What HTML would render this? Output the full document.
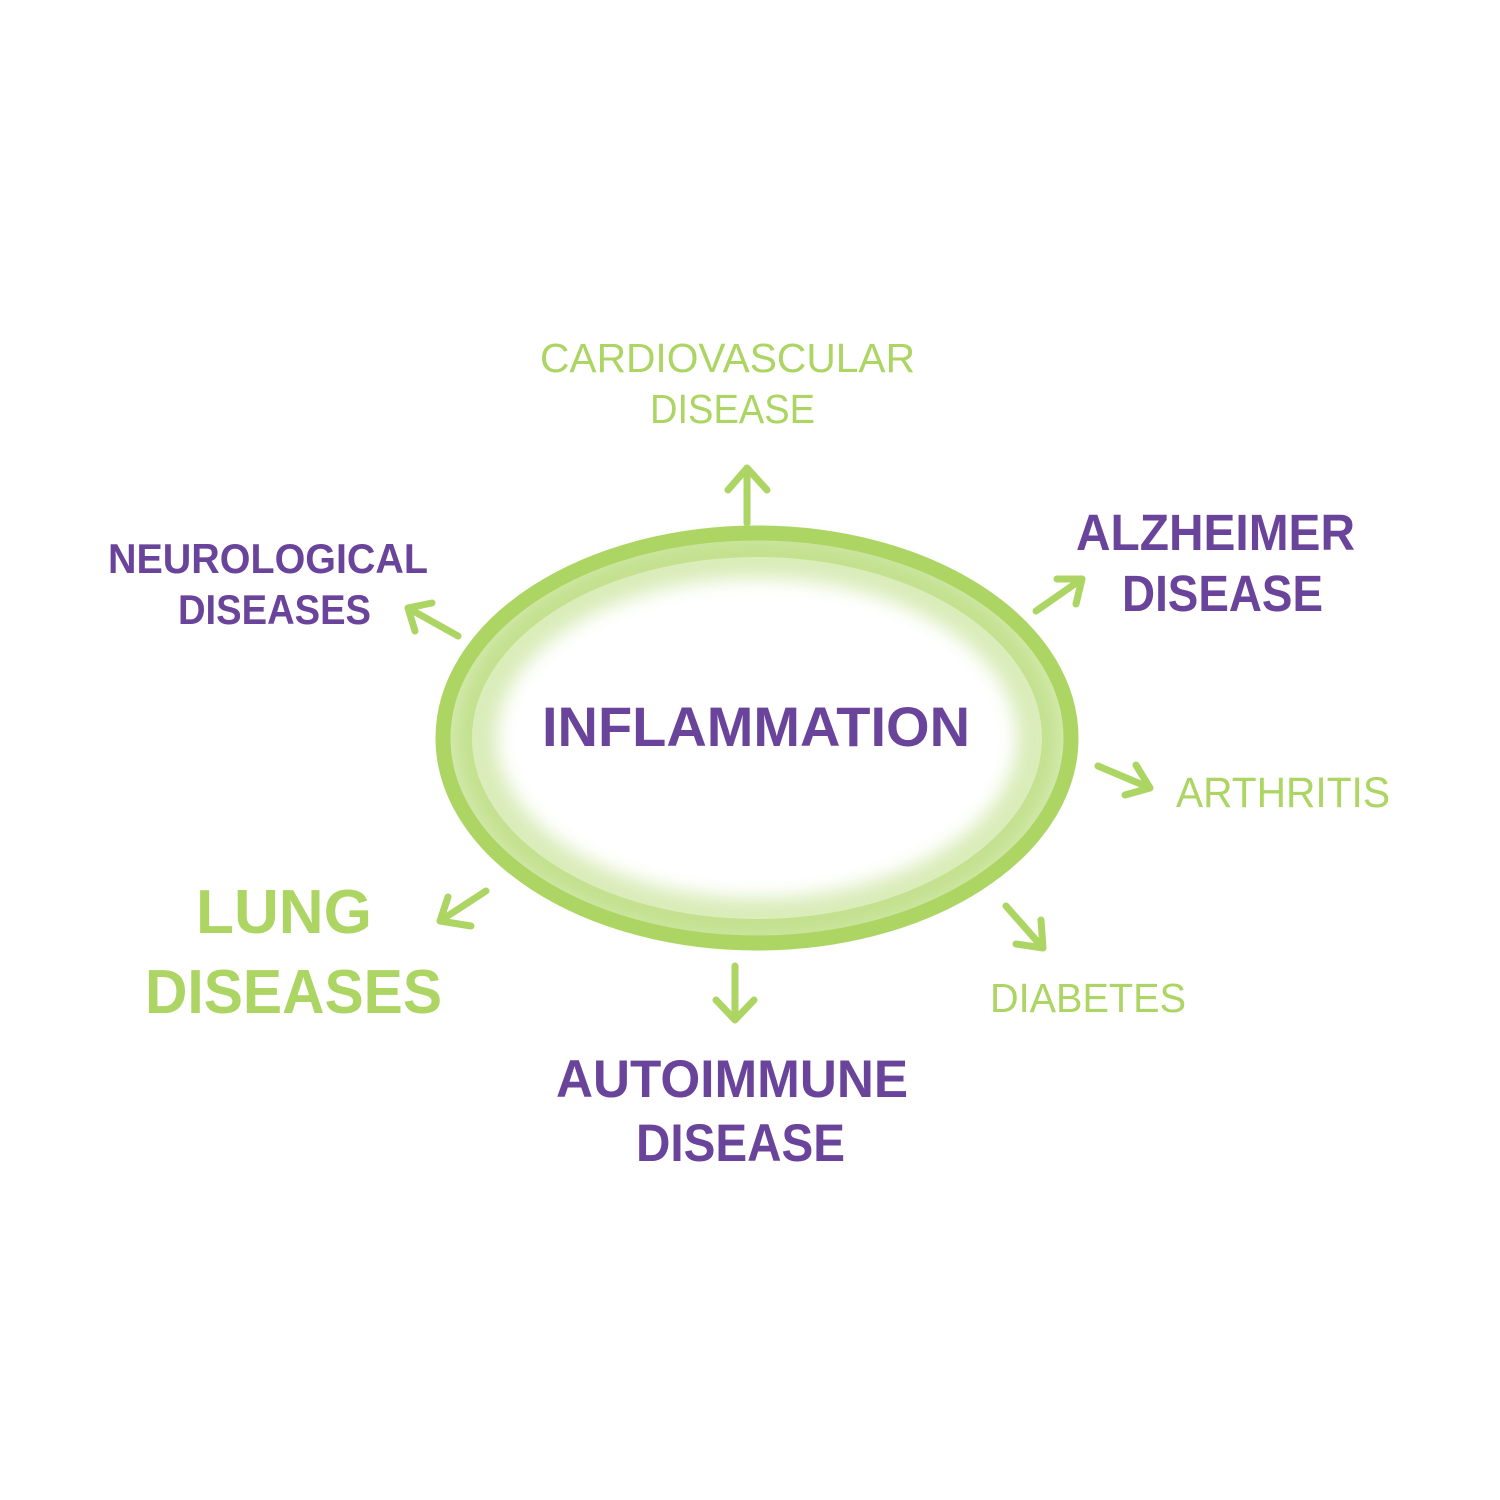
<!DOCTYPE html>
<html><head><meta charset="utf-8"><style>
html,body{margin:0;padding:0;background:#fff}
svg{display:block}
text{font-family:"Liberation Sans",sans-serif}
.g{fill:#acd563}.p{fill:#69449a}
</style></head><body>
<svg width="1500" height="1500" viewBox="0 0 1500 1500">
<defs>
<filter id="blur" x="-20%" y="-20%" width="140%" height="140%"><feGaussianBlur stdDeviation="9"/></filter>
</defs>
<rect width="1500" height="1500" fill="#fff"/>
<!-- inner soft shading -->
<ellipse cx="757" cy="738" rx="280" ry="180" fill="none" stroke="#acd563" stroke-width="40" opacity="0.45" filter="url(#blur)"/>
<ellipse cx="757" cy="738" rx="296" ry="192" fill="none" stroke="#acd563" stroke-width="22" opacity="0.5"/>
<ellipse cx="757" cy="738" rx="314" ry="205" fill="none" stroke="#acd563" stroke-width="15"/>
<g stroke="#acd563" stroke-width="7" stroke-linecap="round" stroke-linejoin="round" fill="none">
<path d="M747 523 L747 468 M728 490 L747 468 L767 490"/>
<path d="M458 636 L408 608 M415 631 L408 608 L432 603"/>
<path d="M1036 611 L1082 579 M1057 579 L1082 579 L1076 604"/>
<path d="M1098 766 L1150 788 M1136 765 L1150 788 L1125 795"/>
<path d="M1006 906 L1043 948 M1041 920 L1043 948 L1016 944"/>
<path d="M735 966 L735 1020 M716 1000 L735 1020 L754 1000"/>
<path d="M486 891 L440 921 M448 897 L440 921 L471 926"/>
</g>
<text class="g" x="540" y="372" font-size="41" textLength="375" lengthAdjust="spacingAndGlyphs">CARDIOVASCULAR</text>
<text class="g" x="650" y="423" font-size="41" textLength="165" lengthAdjust="spacingAndGlyphs">DISEASE</text>
<text class="p" x="108" y="573" font-size="42" font-weight="bold" textLength="320" lengthAdjust="spacingAndGlyphs">NEUROLOGICAL</text>
<text class="p" x="178" y="624" font-size="42" font-weight="bold" textLength="193" lengthAdjust="spacingAndGlyphs">DISEASES</text>
<text class="p" x="1076" y="550" font-size="51" font-weight="bold" textLength="279" lengthAdjust="spacingAndGlyphs">ALZHEIMER</text>
<text class="p" x="1122" y="611" font-size="51" font-weight="bold" textLength="201" lengthAdjust="spacingAndGlyphs">DISEASE</text>
<text class="p" x="542" y="746" font-size="56" font-weight="bold" textLength="428" lengthAdjust="spacingAndGlyphs">INFLAMMATION</text>
<text class="g" x="1176" y="807" font-size="43" textLength="214" lengthAdjust="spacingAndGlyphs">ARTHRITIS</text>
<text class="g" x="990" y="1012" font-size="41" textLength="196" lengthAdjust="spacingAndGlyphs">DIABETES</text>
<text class="g" x="196" y="933" font-size="62" font-weight="bold" textLength="176" lengthAdjust="spacingAndGlyphs">LUNG</text>
<text class="g" x="145" y="1013" font-size="62" font-weight="bold" textLength="297" lengthAdjust="spacingAndGlyphs">DISEASES</text>
<text class="p" x="556" y="1097" font-size="53" font-weight="bold" textLength="352" lengthAdjust="spacingAndGlyphs">AUTOIMMUNE</text>
<text class="p" x="636" y="1161" font-size="53" font-weight="bold" textLength="209" lengthAdjust="spacingAndGlyphs">DISEASE</text>
</svg>
</body></html>
